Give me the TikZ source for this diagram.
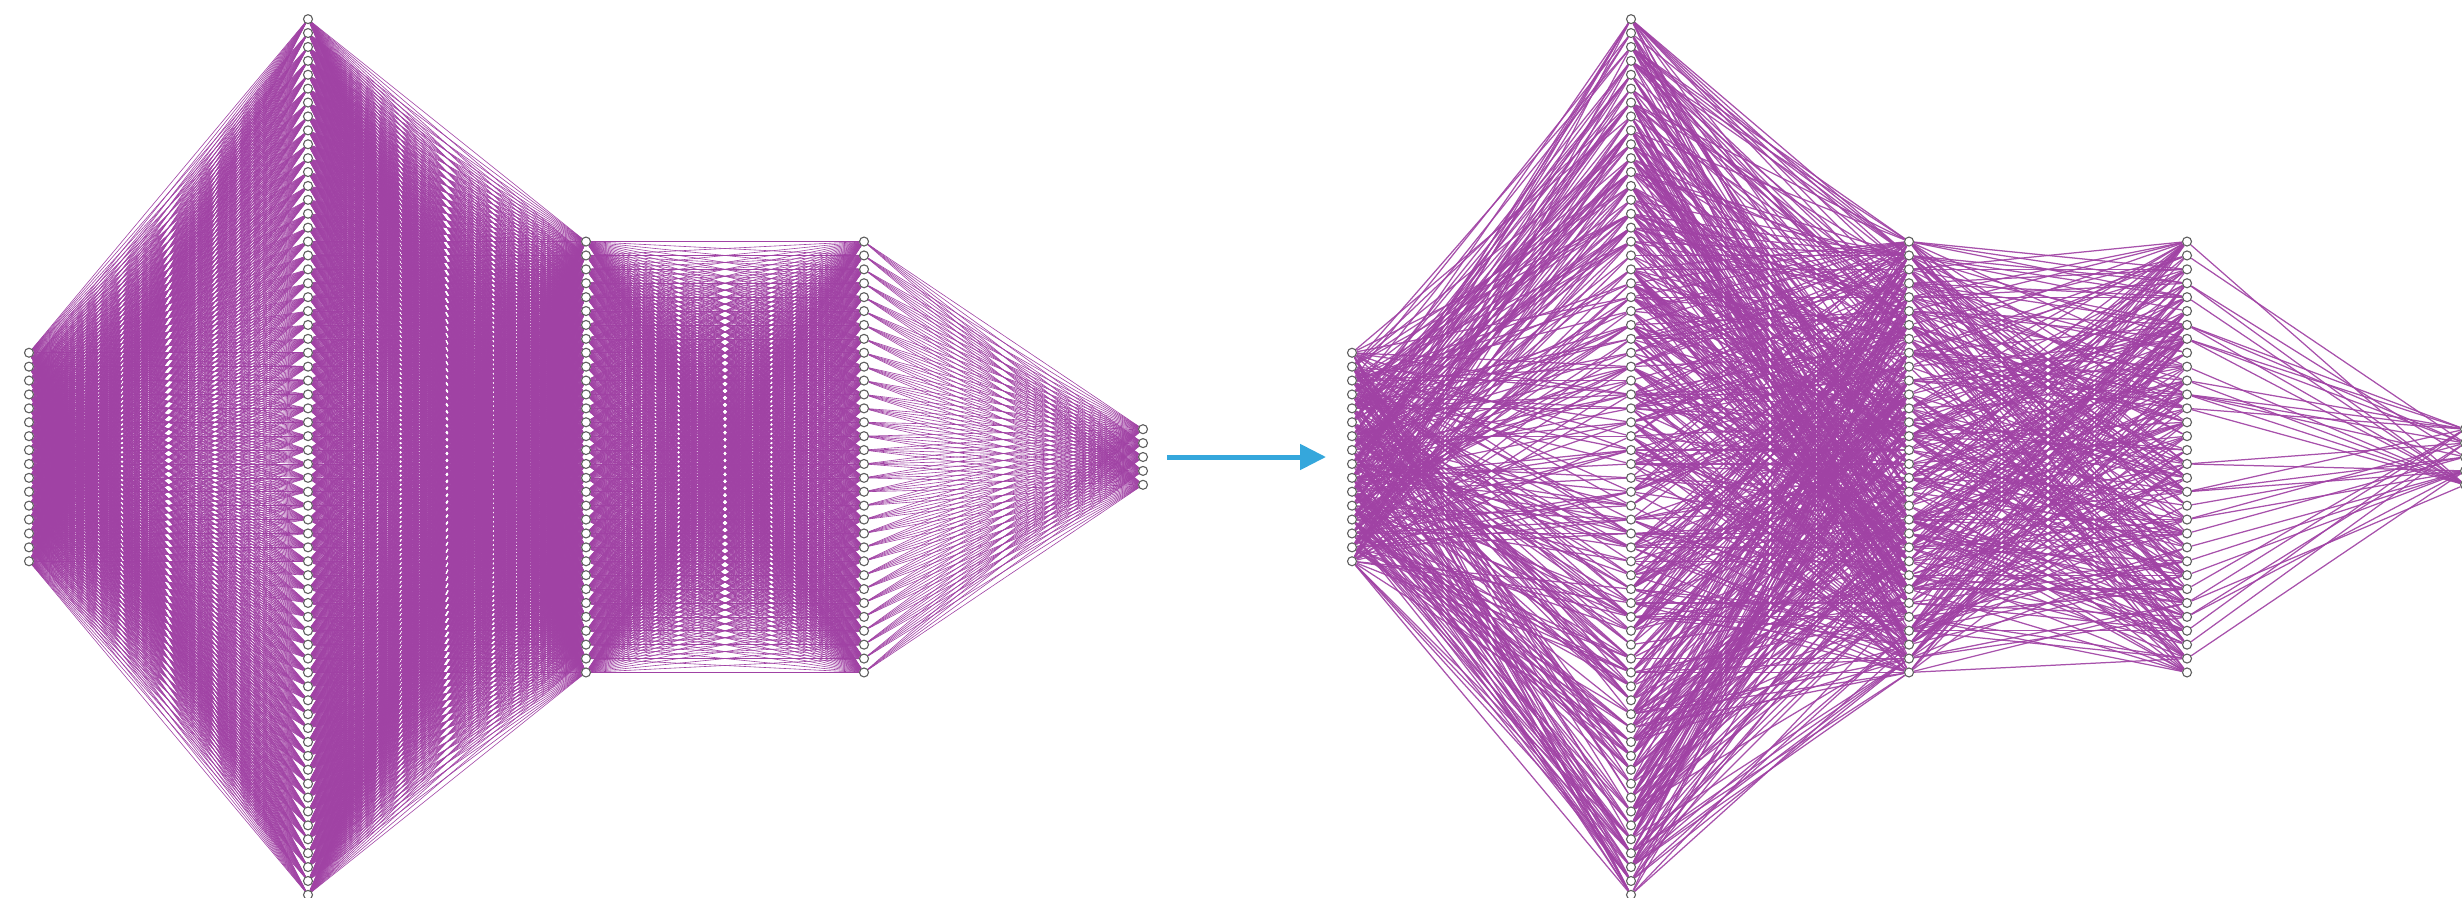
\documentclass[tikz,border=0pt]{standalone}
\usetikzlibrary{arrows.meta}
\pgfdeclarelayer{edges}
\pgfsetlayers{edges,main}
\definecolor{wire}{RGB}{160,66,164}
\definecolor{nodeline}{RGB}{95,95,95}
\definecolor{arrowblue}{RGB}{53,167,220}
\tikzset{
  neuron/.style={circle,draw=nodeline,fill=white,line width=1.1bp,minimum size=9bp,inner sep=0pt},
  densewire/.style={draw=wire,line width=0.6bp},
  sparsewire/.style={draw=wire,line width=1.25bp,opacity=0.92},
  prunearrow/.style={draw=arrowblue,line width=5bp,-{Triangle[length=26bp,width=25bp]}},
}
% one column of neurons: prefix, layer, count, x
\newcommand\neuroncolumn[4]{%
  \foreach \i in {1,...,#3}{%
    \node[neuron] (#1#2-\i) at (#4,{457+(\i-(#3+1)/2)*13.9}) {};
  }%
}
% all connections between two layers
\newcommand\fulllinks[5]{%
  \foreach \i in {1,...,#3}{%
    \foreach \j in {1,...,#5}{%
      \draw[densewire] (#1#2-\i) -- (#1#4-\j);
    }%
  }%
}
% a random subset of the connections between two layers
\newcommand\sparselinks[6]{%
  \foreach \i in {1,...,#3}{%
    \foreach \j in {1,...,#5}{%
      \pgfmathtruncatemacro\keep{rnd<#6}%
      \ifnum\keep=1 \draw[sparsewire] (#1#2-\i) -- (#1#4-\j);\fi
    }%
  }%
}
\begin{document}
\begin{tikzpicture}[x=1bp,y=-1bp]
\useasboundingbox (0,0) rectangle (2462,897);
\clip (0,0) rectangle (2462,897);

% dense network
\neuroncolumn{L}{1}{16}{29}
\neuroncolumn{L}{2}{64}{308}
\neuroncolumn{L}{3}{32}{586}
\neuroncolumn{L}{4}{32}{864}
\neuroncolumn{L}{5}{5}{1143}

% pruned network
\neuroncolumn{R}{1}{16}{1352}
\neuroncolumn{R}{2}{64}{1631}
\neuroncolumn{R}{3}{32}{1909}
\neuroncolumn{R}{4}{32}{2187}
\neuroncolumn{R}{5}{5}{2465}

\begin{pgfonlayer}{edges}
  \fulllinks{L}{1}{16}{2}{64}
  \fulllinks{L}{2}{64}{3}{32}
  \fulllinks{L}{3}{32}{4}{32}
  \fulllinks{L}{4}{32}{5}{5}
  \pgfmathsetseed{4217}
  \sparselinks{R}{1}{16}{2}{64}{0.32}
  \sparselinks{R}{2}{64}{3}{32}{0.25}
  \sparselinks{R}{3}{32}{4}{32}{0.3}
  \sparselinks{R}{4}{32}{5}{5}{0.3}
\end{pgfonlayer}

% pruning arrow
\coordinate (arrowtail) at (1167,457);
\coordinate (arrowtip) at (1326,457);
\draw[prunearrow] (arrowtail) -- (arrowtip);
\end{tikzpicture}
\end{document}
